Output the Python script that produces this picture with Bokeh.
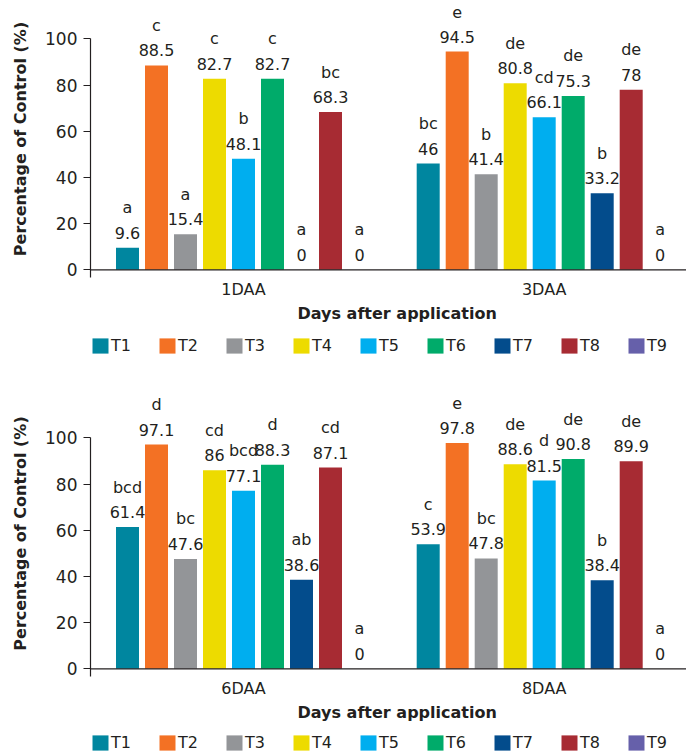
from bokeh.plotting import figure
from bokeh.models import Range1d, FixedTicker, Span, Legend, LegendItem, Title, ColumnDataSource
from bokeh.layouts import column
from bokeh.embed import file_html
from bokeh.resources import INLINE
from bokeh.core.properties import value

treatments = ["T1", "T2", "T3", "T4", "T5", "T6", "T7", "T8", "T9"]
colors = ["#00869F", "#F37124", "#939598", "#EDDB00", "#00AEEF",
          "#00AB6A", "#034C8C", "#A72B33", "#6660AA"]

days_top = ["1DAA", "3DAA"]
days_bottom = ["6DAA", "8DAA"]

values_1DAA = [9.6, 88.5, 15.4, 82.7, 48.1, 82.7, 0, 68.3, 0]
letters_1DAA = ["a", "c", "a", "c", "b", "c", "a", "bc", "a"]
values_3DAA = [46, 94.5, 41.4, 80.8, 66.1, 75.3, 33.2, 78, 0]
letters_3DAA = ["bc", "e", "b", "de", "cd", "de", "b", "de", "a"]
values_6DAA = [61.4, 97.1, 47.6, 86, 77.1, 88.3, 38.6, 87.1, 0]
letters_6DAA = ["bcd", "d", "bc", "cd", "bcd", "d", "ab", "cd", "a"]
values_8DAA = [53.9, 97.8, 47.8, 88.6, 81.5, 90.8, 38.4, 89.9, 0]
letters_8DAA = ["c", "e", "bc", "de", "d", "de", "b", "de", "a"]

y_ticks = [0, 20, 40, 60, 80, 100]

FONT = value("DejaVu Sans")
TXT = "#231F20"
PX_PER_UNIT = 2.31
PX_PER_CAT = 300.7
STEP = 29 / PX_PER_CAT
BAR_W = 23 / PX_PER_CAT
LEFT = 90
WIDTH = 686
X_START = 0.5 - 153 / PX_PER_CAT
X_END = X_START + (WIDTH - LEFT) / PX_PER_CAT
Y_START = -3.3
BELOW = 53


def bar_sources(days, vals, lets):
    out = []
    for t in range(len(treatments)):
        xs = [d + 0.5 + (t - 4) * STEP for d in range(len(days))]
        tops = [vals[d][t] for d in range(len(days))]
        out.append(ColumnDataSource(dict(x=xs, top=tops,
                                         vlab=[f"{v:g}" for v in tops],
                                         llab=[lets[d][t] for d in range(len(days))])))
    return out


def make_panel(days, sources, top_px):
    y_end = 100 + top_px / PX_PER_UNIT
    frame_h = int(round((y_end - Y_START) * PX_PER_UNIT))
    height = frame_h + BELOW
    p = figure(width=WIDTH, height=height,
               x_range=Range1d(X_START, X_END), y_range=Range1d(Y_START, y_end),
               output_backend="svg", toolbar_location=None,
               min_border_left=LEFT, min_border_right=0, min_border_top=0,
               min_border_bottom=BELOW)
    p.outline_line_color = None
    p.grid.visible = False
    p.background_fill_color = "white"

    for t, src in enumerate(sources):
        p.vbar(x="x", top="top", bottom=0, width=BAR_W, source=src,
               fill_color=colors[t], line_color=None)
        p.text(x="x", y="top", text="vlab", source=src, text_font=FONT,
               text_font_size="16px", text_color=TXT, text_align="center",
               text_baseline="middle", y_offset=-15)
        p.text(x="x", y="top", text="llab", source=src, text_font=FONT,
               text_font_size="16px", text_color=TXT, text_align="center",
               text_baseline="middle", y_offset=-40)

    p.add_layout(Span(location=0, dimension="width", line_color=TXT, line_width=1.2))

    ya = p.yaxis[0]
    ya.ticker = FixedTicker(ticks=y_ticks)
    ya.bounds = (Y_START, 100)
    ya.axis_line_color = TXT
    ya.axis_line_width = 1.2
    ya.major_tick_line_color = TXT
    ya.major_tick_line_width = 1.2
    ya.major_tick_out = 7
    ya.major_tick_in = 0
    ya.minor_tick_line_color = None
    ya.major_label_standoff = 6
    ya.major_label_text_font = "DejaVu Sans"
    ya.major_label_text_font_size = "17px"
    ya.major_label_text_color = TXT
    ya.axis_label = "Percentage of Control (%)"
    ya.axis_label_text_font = "DejaVu Sans"
    ya.axis_label_text_font_size = "16px"
    ya.axis_label_text_font_style = "bold"
    ya.axis_label_text_color = TXT
    ya.axis_label_standoff = 12

    xa = p.xaxis[0]
    xa.ticker = FixedTicker(ticks=[d + 0.5 for d in range(len(days))])
    xa.major_label_overrides = {d + 0.5: days[d] for d in range(len(days))}
    xa.axis_line_color = None
    xa.major_tick_line_color = None
    xa.minor_tick_line_color = None
    xa.major_tick_out = 0
    xa.major_tick_in = 0
    xa.major_label_standoff = 2
    xa.major_label_text_font = "DejaVu Sans"
    xa.major_label_text_font_size = "16px"
    xa.major_label_text_color = TXT

    p.add_layout(Title(text="Days after application", align="left", offset=207,
                       text_font="DejaVu Sans", text_font_size="16px",
                       text_font_style="bold", text_color=TXT, standoff=0), "below")
    return p


def make_legend(sources, height, top_px):
    # legend strip: the same bar renderers, with a y-range above the data so
    # only the legend entries are visible
    q = figure(width=WIDTH, height=height, x_range=Range1d(X_START, X_END),
               y_range=Range1d(1000, 1001), x_axis_type=None, y_axis_type=None,
               output_backend="svg", toolbar_location=None, min_border=0)
    q.outline_line_color = None
    q.grid.visible = False
    items = []
    for t, src in enumerate(sources):
        r = q.vbar(x="x", top="top", bottom=0, width=BAR_W, source=src,
                   fill_color=colors[t], line_color=None)
        items.append(LegendItem(label=treatments[t], renderers=[r]))
    legend = Legend(items=items, orientation="horizontal",
                    location=(0, height - top_px - 19),
                    glyph_width=20, glyph_height=19, label_standoff=1,
                    label_width=40, label_height=16, spacing=6, padding=0,
                    margin=0, border_line_color=None, background_fill_alpha=0,
                    label_text_font="DejaVu Sans", label_text_font_size="16px",
                    label_text_color=TXT)
    q.add_layout(legend, "center")
    return q


src_top = bar_sources(days_top, [values_1DAA, values_3DAA], [letters_1DAA, letters_3DAA])
src_bottom = bar_sources(days_bottom, [values_6DAA, values_8DAA], [letters_6DAA, letters_8DAA])

p1 = make_panel(days_top, src_top, 38.3)
l1 = make_legend(src_top, 60, 6)
p2 = make_panel(days_bottom, src_bottom, 47.3)
l2 = make_legend(src_bottom, 24, 4)

layout = column(p1, l1, p2, l2, spacing=0)
open("out.html", "w").write(file_html(layout, INLINE))
